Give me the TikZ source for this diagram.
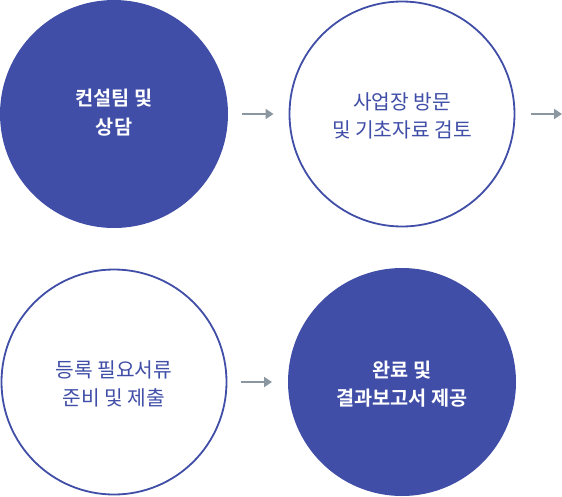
\documentclass[tikz,border=0pt]{standalone}
\usepackage{fontspec}
\newfontfamily\kr{Noto Sans CJK KR}
\newfontfamily\krb{Noto Sans CJK KR Bold}
\usetikzlibrary{arrows.meta}
\definecolor{mainblue}{HTML}{404EA7}
\definecolor{arrowgray}{HTML}{8A96A0}
\tikzset{
  filledstep/.style={circle,fill=mainblue,minimum size=228pt,inner sep=0pt},
  outlinestep/.style={circle,draw=mainblue,line width=1.8pt,fill=white,minimum size=225pt,inner sep=0pt},
  filledtext/.style={text=white,align=center,font=\krb\fontsize{19.7}{28.5}\selectfont},
  outlinetext/.style={text=mainblue,align=center,font=\kr\fontsize{20.3}{28.5}\selectfont},
  flowarrow/.style={draw=arrowgray,line width=2pt,-{Triangle[length=8pt,width=10pt]}}
}
\begin{document}
\begin{tikzpicture}[x=1pt,y=-1pt]
\useasboundingbox (0,0) rectangle (562,496);
\node[filledstep] (s1) at (114,114) {};
\node[outlinestep] (s2) at (402,114) {};
\node[outlinestep] (s3) at (114,382) {};
\node[filledstep] (s4) at (402,382) {};
\node[filledtext] (t1) at (114,112.5) {컨설팀 및\\상담};
\node[outlinetext] (t2) at (402,116) {사업장 방문\\및 기초자료 검토};
\node[outlinetext] (t3) at (114,384) {등록 필요서류\\준비 및 제출};
\node[filledtext] (t4) at (402,384) {완료 및\\결과보고서 제공};
\coordinate (a1s) at (241.5,114);
\coordinate (a1e) at (273.5,114);
\coordinate (a2s) at (530.5,114);
\coordinate (a2e) at (562,114);
\coordinate (a3s) at (240.5,382);
\coordinate (a3e) at (272,382);
\draw[flowarrow] (a1s) -- (a1e);
\draw[flowarrow] (a2s) -- (a2e);
\draw[flowarrow] (a3s) -- (a3e);
\end{tikzpicture}
\end{document}
